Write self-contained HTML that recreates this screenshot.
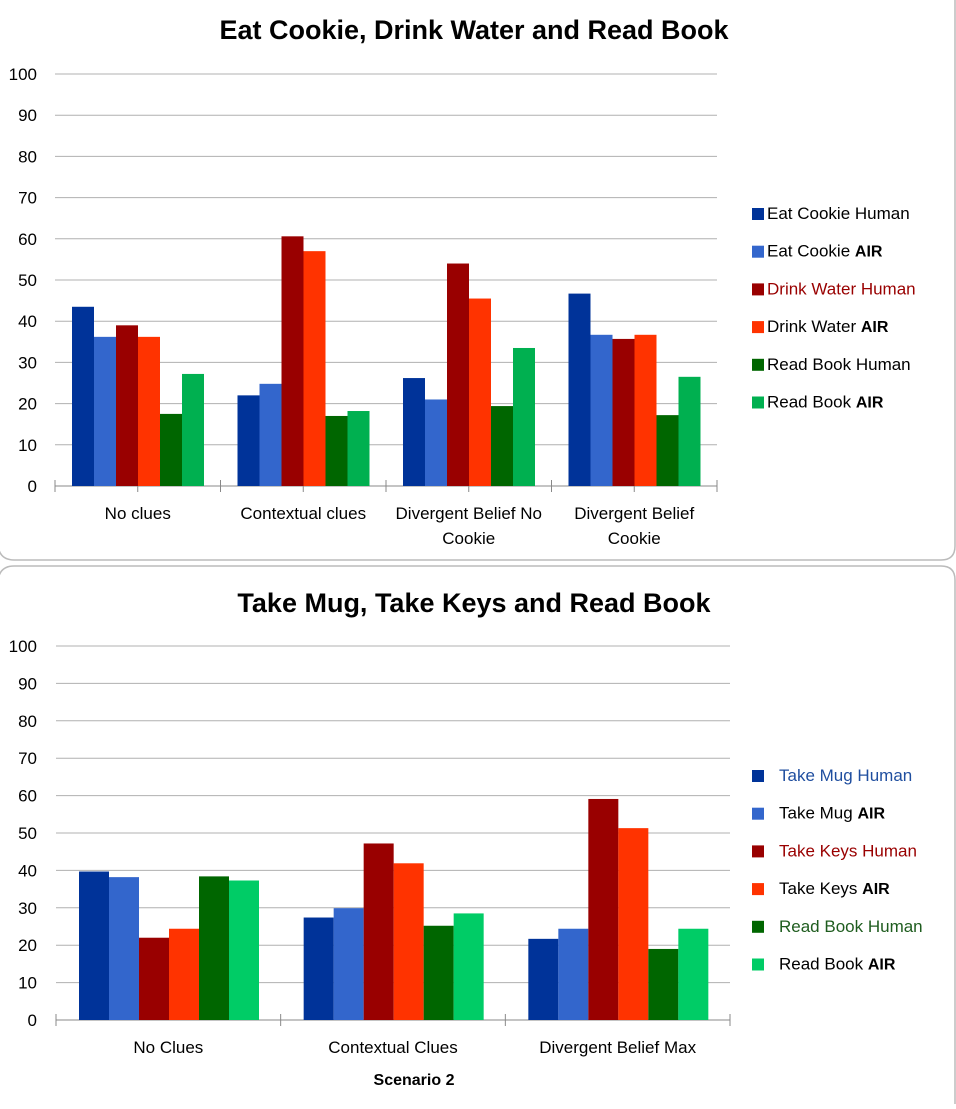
<!DOCTYPE html>
<html><head><meta charset="utf-8"><style>
body{margin:0;background:#fff;width:956px;height:1104px;overflow:hidden;font-family:"Liberation Sans",sans-serif}
svg text{font-family:"Liberation Sans",sans-serif}
</style></head><body>
<svg id="s" width="956" height="1104">
<path d="M-2,-2 L955,-2 L955,546 Q955,560 941,560 L14,560 Q0,560 -2,546" fill="none" stroke="#bbb" stroke-width="1.5"/>
<path d="M-2,1106 L-2,580 Q0,566 14,566 L941,566 Q955,566 955,580 L955,1106" fill="none" stroke="#bbb" stroke-width="1.5"/>
<text x="474" y="39" text-anchor="middle" font-size="27" font-weight="bold">Eat Cookie, Drink Water and Read Book</text>
<text x="474" y="612" text-anchor="middle" font-size="27" font-weight="bold">Take Mug, Take Keys and Read Book</text>
<text x="414" y="1085" text-anchor="middle" font-size="16" font-weight="bold">Scenario 2</text>
</svg>
<script>
const colors=['#003399','#3366cc','#990000','#ff3300','#006600','#00b050'];
const colors2=['#003399','#3366cc','#990000','#ff3300','#006600','#00cc66'];
const topCats=[['No clues'],['Contextual clues'],['Divergent Belief No','Cookie'],['Divergent Belief','Cookie']];
const topSeries=['Eat Cookie','Eat Cookie','Drink Water','Drink Water','Read Book','Read Book'];
const topVals=[[43.5,22,26.2,46.7],[36.2,24.8,21,36.7],[39,60.6,54,35.7],[36.2,57,45.5,36.7],[17.5,17,19.4,17.2],[27.2,18.2,33.5,26.5]];
const botCats=[['No Clues'],['Contextual Clues'],['Divergent Belief Max']];
const botSeries=['Take Mug','Take Mug','Take Keys','Take Keys','Read Book','Read Book'];
const botVals=[[39.7,27.4,21.7],[38.2,29.9,24.4],[22,47.2,59.1],[24.4,41.9,51.3],[38.4,25.2,19],[37.3,28.5,24.4]];
const yTicks=[0,10,20,30,40,50,60,70,80,90,100];
const NS='http://www.w3.org/2000/svg';
const svg=document.getElementById('s');
function mk(t,a,txt){const e=document.createElementNS(NS,t);for(const k in a)e.setAttribute(k,a[k]);if(txt!=null)e.textContent=txt;svg.appendChild(e);return e;}
function chart(o){
 const y=v=>o.y0-(o.y0-o.y100)*v/100;
 const cw=(o.x1-o.x0)/o.cats.length;
 yTicks.forEach(t=>{
  if(t>0){const g=mk('line',{x1:o.x0,x2:o.x1,y1:y(t),y2:y(t),stroke:'#b0b0b0'});
  
  }
  const l=mk('text',{x:37,y:y(t)+6,'text-anchor':'end','font-size':17},String(t));
  
  
 });
 const ax=mk('line',{x1:o.x0,x2:o.x1,y1:o.y0,y2:o.y0,stroke:'#888'});
 
 
 for(let i=0;i<=o.cats.length*o.tickDiv;i++){const tx=o.x0+i*cw/o.tickDiv;
  const tk=mk('line',{x1:tx,x2:tx,y1:o.y0-6,y2:o.y0+6,stroke:'#888'});
  
  }
 o.cats.forEach((c,ci)=>{
  c.forEach((line,li)=>{const t=mk('text',{x:o.x0+cw*(ci+0.5),y:o.y0+33+li*25,'text-anchor':'middle','font-size':17},line);
   
   });
  o.vals.forEach((sv,si)=>{
   const bx=o.x0+cw*ci+o.pad+si*o.bw;
   const r=mk('rect',{x:bx,y:y(sv[ci]),width:o.bw,height:o.y0-y(sv[ci]),fill:o.colors[si]});
   
   
  });
 });
 o.series.forEach((s,si)=>{
  const ly=o.ly+si*o.lstep;
  const sw=mk('rect',{x:752,y:ly-11,width:12,height:12,fill:o.colors[si]});
  
  
  const t=mk('text',{x:o.lx,y:ly,'font-size':17,fill:si%2==0?o.humanColors[si/2]:'#000'});
  
  
  const a=document.createElementNS(NS,'tspan');a.textContent=s+(si%2==0?' Human':' ');t.appendChild(a);
  if(si%2==1){const b=document.createElementNS(NS,'tspan');b.setAttribute('font-weight','bold');b.setAttribute('font-size','16');b.textContent='AIR';t.appendChild(b);}
 });
}
chart({x0:55,x1:717,y0:486,y100:74,cats:topCats,vals:topVals,series:topSeries,colors:colors,pad:17,bw:22,tickDiv:2,ly:219,lstep:37.7,lx:767,humanColors:['#000','#990000','#000']});
chart({x0:56,x1:730,y0:1020,y100:646,cats:botCats,vals:botVals,series:botSeries,colors:colors2,pad:23,bw:30,tickDiv:1,ly:781,lstep:37.7,lx:779,humanColors:['#1f4e9f','#990000','#1e5c1e']});
</script>
</body></html>
